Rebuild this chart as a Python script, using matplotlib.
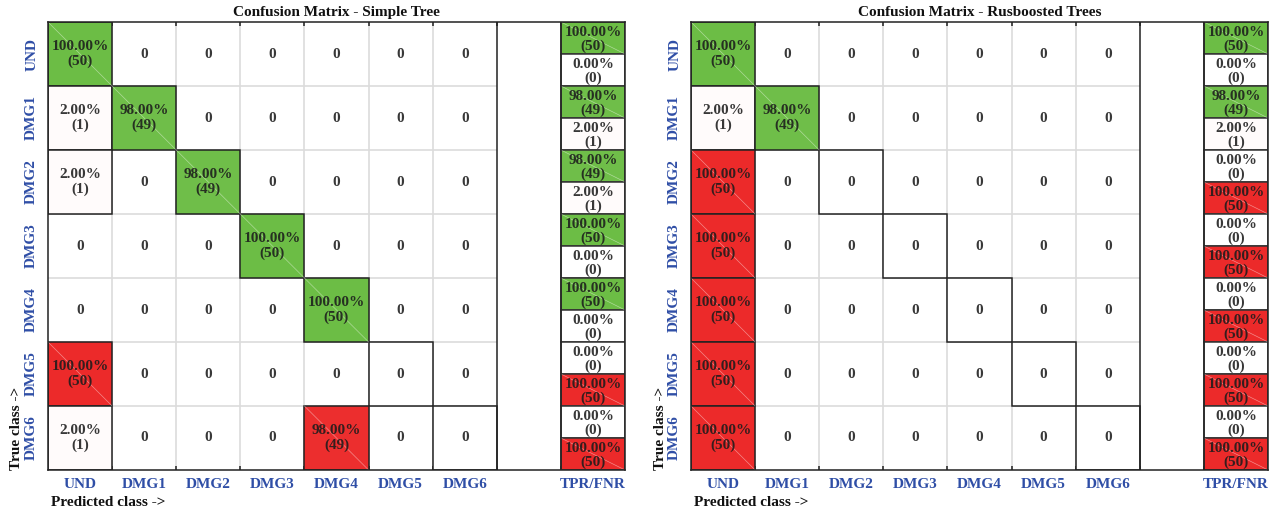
import matplotlib
matplotlib.use("Agg")
import matplotlib.pyplot as plt
from matplotlib.patches import Rectangle
import numpy as np

plt.rcParams["font.family"] = ["Liberation Serif", "DejaVu Serif"]
plt.rcParams["font.weight"] = "bold"

classes = ["UND", "DMG1", "DMG2", "DMG3", "DMG4", "DMG5", "DMG6"]

# counts: rows = true class, cols = predicted class
simple_tree = [
    [50, 0, 0, 0, 0, 0, 0],
    [1, 49, 0, 0, 0, 0, 0],
    [1, 0, 49, 0, 0, 0, 0],
    [0, 0, 0, 50, 0, 0, 0],
    [0, 0, 0, 0, 50, 0, 0],
    [50, 0, 0, 0, 0, 0, 0],
    [1, 0, 0, 0, 49, 0, 0],
]
rusboosted = [
    [50, 0, 0, 0, 0, 0, 0],
    [1, 49, 0, 0, 0, 0, 0],
    [50, 0, 0, 0, 0, 0, 0],
    [50, 0, 0, 0, 0, 0, 0],
    [50, 0, 0, 0, 0, 0, 0],
    [50, 0, 0, 0, 0, 0, 0],
    [50, 0, 0, 0, 0, 0, 0],
]
titles = ["Confusion Matrix - Simple Tree", "Confusion Matrix - Rusboosted Trees"]

GREEN = np.array([108, 189, 69]) / 255
RED = np.array([236, 42, 42]) / 255
TXT = "#1c1c1c"
BLUE = "#2f4ea6"
FS = 11

W, H = 1283, 513


def blend(base, frac):
    return tuple(1 - frac * (1 - base))


def draw_cm(ax, cm):
    cm = np.array(cm)
    n = len(cm)
    ax.set_xlim(0, n + 2)
    ax.set_ylim(n, 0)

    # light grid inside the matrix
    ax.vlines(range(1, n), 0, n, color="#dcdcdc", lw=1.2, zorder=1)
    ax.hlines(range(1, n), 0, n, color="#dcdcdc", lw=1.2, zorder=1)

    for i in range(n):
        total = cm[i].sum()
        for j in range(n):
            v = cm[i, j]
            frac = v / total
            fc = blend(GREEN if i == j else RED, frac) if v > 0 else "white"
            if v > 0 or i == j:
                ax.add_patch(Rectangle((j, i), 1, 1, fc=fc, ec="#222222",
                                       lw=1.1, zorder=3))
                if frac > 0.5:
                    ax.plot([j, j + 1], [i, i + 1], color="white", lw=0.5,
                            alpha=0.45, zorder=4)
            txt = f"{100 * frac:.2f}%\n({v})" if v > 0 else "0"
            ax.text(j + 0.5, i + 0.5, txt, ha="center", va="center",
                    fontsize=FS, color=TXT, alpha=0.88, linespacing=1.12,
                    zorder=5)

        # TPR / FNR column
        tp = cm[i, i]
        fn = total - tp
        for k, (v, base) in enumerate([(tp, GREEN), (fn, RED)]):
            y0 = i + 0.5 * k
            frac = v / total
            fc = blend(base, frac) if v > 0 else "white"
            ax.add_patch(Rectangle((n + 1, y0), 1, 0.5, fc=fc, ec="#333333",
                                   lw=1.1, zorder=3))
            if frac > 0.5:
                ax.plot([n + 1, n + 2], [y0, y0 + 0.5], color="white", lw=0.5,
                        alpha=0.45, zorder=4)
            ax.text(n + 1.5, y0 + 0.27, f"{100 * frac:.2f}%\n({v})",
                    ha="center", va="center", fontsize=FS, color=TXT,
                    alpha=0.88, linespacing=1.0, zorder=5)

    ax.vlines([n, n + 1], 0, n, color="#222222", lw=1.1, zorder=6)

    for s in ax.spines.values():
        s.set_color("#222222")
        s.set_linewidth(1.1)
        s.set_zorder(7)

    ax.set_xticks(list(np.arange(n) + 0.5) + [n + 1.5])
    ax.set_xticklabels(classes + ["TPR/FNR"], color=BLUE, fontsize=FS)
    ax.set_yticks(np.arange(n) + 0.5)
    ax.set_yticklabels(classes, color=BLUE, fontsize=FS, rotation=90,
                       va="center")
    ax.tick_params(which="major", length=0, pad=6)
    ax.tick_params(axis="y", which="major", pad=7)
    ax.set_xticks(range(1, n + 2), minor=True)
    ax.tick_params(axis="x", which="minor", direction="in", length=3,
                   width=1.1, top=True, bottom=True, color="#222222")


fig = plt.figure(figsize=(W / 100, H / 100), dpi=100)
for left, cm, title in zip([48, 691], [simple_tree, rusboosted], titles):
    ax = fig.add_axes([left / W, (H - 470) / H, 577 / W, 448 / H])
    draw_cm(ax, cm)
    fig.text((left + 288.5) / W, 1 - 16 / H, title, ha="center",
             va="baseline", fontsize=FS, color="#111111")
    fig.text((left + 3) / W, 1 - 506 / H, "Predicted class ->",
             ha="left", va="baseline", fontsize=FS, color="#111111")
    fig.text((left - 31) / W, 1 - 470 / H, "True class ->", rotation=90,
             ha="center", va="bottom", fontsize=FS, color="#111111")

fig.savefig("out.png", dpi=100)
